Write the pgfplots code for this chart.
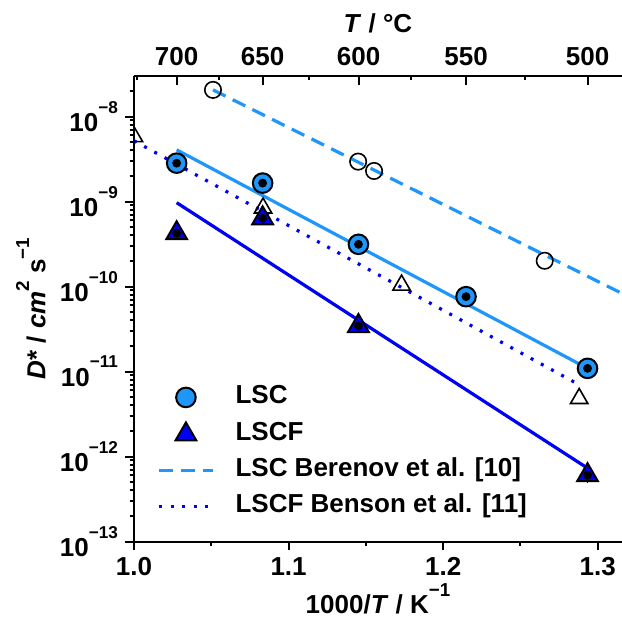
\documentclass[border=0pt]{standalone}
\usepackage{fontspec}
\setmainfont{Liberation Sans}
\usepackage{pgfplots}
\pgfplotsset{compat=1.18}
\definecolor{lblue}{RGB}{30,150,250}
\definecolor{dblue}{RGB}{0,0,245}
\newcommand\sups[1]{\raisebox{0.72em}{\scalebox{0.66}{#1}}}
\newcommand\lsups[1]{\raisebox{0.62em}{\scalebox{0.72}{#1}}}
\pgfplotsset{
  markleg/.style={legend image code/.code={\draw[##1] plot coordinates {(13.5pt,0pt)};}},
  lineleg/.style={legend image code/.code={\draw[##1] (0pt,0pt) -- (27pt,0pt);}},
}
\begin{document}
\begin{tikzpicture}
\useasboundingbox (-67pt,-39.75pt) rectangle (244pt,270.75pt);
\begin{axis}[
  at={(0,0)}, anchor=south west,
  scale only axis, width=244pt, height=232.75pt,
  xmin=1.0, xmax=1.3157,
  ymode=log, ymin=1e-13, ymax=3.0e-8,
  axis line style={-, line width=1pt, black},
  major tick length=4.5pt, minor tick length=2.2pt,
  tick style={black, line width=1pt},
  tick label style={font=\fontsize{13}{15}\selectfont\bfseries},
  xticklabel style={yshift=1.5pt},
  label style={font=\fontsize{13}{15}\selectfont\bfseries},
  axis x line*=top, axis y line=none,
  tick align=inside,
  xtick={1.027591,1.083248,1.145279,1.214845,1.293410},
  xticklabels={700,650,600,550,500},
  minor xtick={1.001853,1.054685,1.113400,1.179037,1.252897},
  xlabel={\textit{T} / °C},
  xlabel style={at={(axis description cs:0.5,1.0924)}, anchor=base},
]
\addplot[draw=none, forget plot] coordinates {(1.1,1e-10)};
\end{axis}
\begin{axis}[
  at={(0,0)}, anchor=south west,
  scale only axis, width=244pt, height=232.75pt,
  xmin=1.0, xmax=1.3157,
  ymode=log, ymin=1e-13, ymax=3.0e-8,
  axis line style={-, line width=1pt, black},
  major tick length=4.5pt, minor tick length=2.2pt,
  tick style={black, line width=1pt},
  tick label style={font=\fontsize{13}{15}\selectfont\bfseries},
  label style={font=\fontsize{13}{15}\selectfont\bfseries},
  axis x line*=bottom, axis y line*=left,
  tick align=outside,
  xtick={1.0,1.1,1.2,1.3}, xticklabels={1.0,1.1,1.2,1.3},
  minor xtick={1.05,1.15,1.25},
  ytick={1e-13,1e-12,1e-11,1e-10,1e-9,1e-8},
  yticklabels={10\sups{−13},10\sups{−12},10\sups{−11},10\sups{−10},10\sups{−9},10\sups{−8}},
  minor ytick={2e-13,3e-13,4e-13,5e-13,6e-13,7e-13,8e-13,9e-13,
    2e-12,3e-12,4e-12,5e-12,6e-12,7e-12,8e-12,9e-12,
    2e-11,3e-11,4e-11,5e-11,6e-11,7e-11,8e-11,9e-11,
    2e-10,3e-10,4e-10,5e-10,6e-10,7e-10,8e-10,9e-10,
    2e-9,3e-9,4e-9,5e-9,6e-9,7e-9,8e-9,9e-9,2e-8},
  yticklabel style={font=\fontsize{13}{15}\selectfont\bfseries},
  xlabel={1000/\textit{T} / K\lsups{−1}},
  ylabel={\textit{D}* / \textit{cm}\lsups{2} s\lsups{−1}},
  xlabel style={at={(axis description cs:0.5,-0.1536)}, anchor=base},
  ylabel style={at={(axis description cs:-0.2111,0.5)}, anchor=center},
  legend cell align=left,
  legend style={draw=none, fill=none, at={(axis description cs:0.0347,0.3426)}, anchor=north west,
    font=\fontsize{13}{15}\selectfont\bfseries, row sep=7pt, column sep=10.5pt,
    nodes={inner sep=0pt, text height=8.6pt, text depth=2.4pt}},
]
% fit / literature lines
\addplot[forget plot, lblue, line width=1.6pt, dash pattern=on 7pt off 4pt] coordinates {(1.0511,2.06e-8) (1.3157,8.3e-11)};
\addplot[forget plot, dblue, line width=1.6pt, dash pattern=on 1.5pt off 4.3pt] coordinates {(1.0,5.18e-9) (1.2885,6.9e-12)};
\addplot[forget plot, lblue, line width=1.6pt] coordinates {(1.0276,4.06e-9) (1.2934,1.09e-11)};
\addplot[forget plot, dblue, line width=1.6pt] coordinates {(1.0276,9.7e-10) (1.2934,7.3e-13)};
% Berenov open circles
\addplot[forget plot, only marks, mark=o, mark size=4.1pt, mark options={draw=black, line width=0.8pt, fill=none}] coordinates {
(1.0511,2.06e-8) (1.1450,2.95e-9) (1.1553,2.29e-9) (1.2657,2.01e-10)};
% Benson open triangles
\addplot[forget plot, only marks, mark=triangle, mark size=5pt, clip marker paths=true, mark options={draw=black, line width=0.8pt, fill=none}] coordinates {
(1.0,5.8e-9) (1.0835,8.4e-10) (1.1731,1.04e-10) (1.2880,4.82e-12)};
% LSCF
\addplot[forget plot, only marks, mark=triangle*, mark size=6pt, mark options={fill=dblue, draw=black, line width=1pt}] table {
x y
1.0276 4.24e-10
1.0832 6.35e-10
1.1452 3.43e-11
1.2934 6.03e-13
};
\addplot[forget plot, only marks, mark=none, error bars/.cd, y dir=both, y explicit relative, error mark=none, error bar style={black, line width=0.9pt}] table[y error index=2] {
x y e
1.0276 4.24e-10 0.12
1.0832 6.35e-10 0.12
1.1452 3.43e-11 0.12
1.2934 6.03e-13 0.18
};
% LSC
\addplot[forget plot, only marks, mark=*, mark size=4.9pt, mark options={fill=lblue, draw=black, line width=1pt}] table {
x y
1.0276 2.83e-9
1.0832 1.65e-9
1.1452 3.14e-10
1.2148 7.6e-11
1.2934 1.09e-11
};
\addplot[forget plot, only marks, mark=none, error bars/.cd, y dir=both, y explicit relative, error mark=none, error bar style={black, line width=0.9pt}] table[y error index=2] {
x y e
1.0276 2.83e-9 0.12
1.0832 1.65e-9 0.12
1.1452 3.14e-10 0.12
1.2148 7.6e-11 0.12
1.2934 1.09e-11 0.12
};
% legend
\addlegendimage{markleg, only marks, mark=*, mark size=4.9pt, mark options={fill=lblue, draw=black, line width=1pt}}
\addlegendentry{LSC}
\addlegendimage{markleg, only marks, mark=triangle*, mark size=6pt, mark options={fill=dblue, draw=black, line width=1pt}}
\addlegendentry{LSCF}
\addlegendimage{lineleg, lblue, line width=1.6pt, dash pattern=on 7pt off 4pt}
\addlegendentry{LSC Berenov et al. [10]}
\addlegendimage{lineleg, dblue, line width=1.6pt, dash pattern=on 1.5pt off 4.3pt}
\addlegendentry{LSCF Benson et al. [11]}
\end{axis}
\end{tikzpicture}
\end{document}
